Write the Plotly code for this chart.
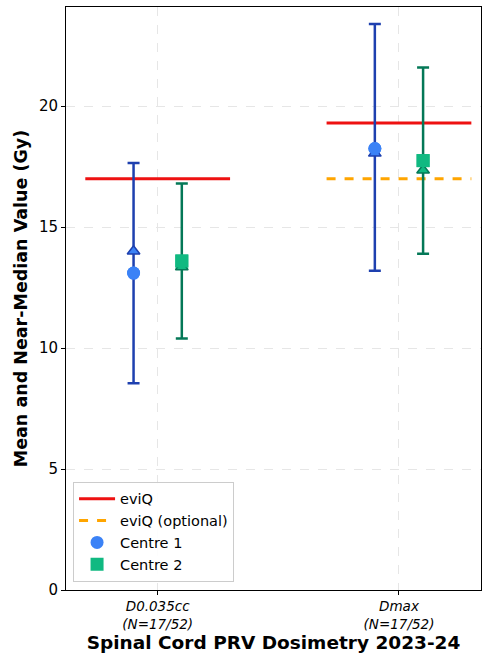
import plotly.graph_objects as go

categories = ["D0.035cc", "Dmax"]
n_labels = ["(N=17/52)", "(N=17/52)"]
eviq = [17.0, 19.3]
eviq_optional = [None, 17.0]

c1_mean = [13.1, 18.25]
c1_median = [14.0, 18.05]
c1_upper = [17.65, 23.4]
c1_lower = [8.55, 13.2]

c2_mean = [13.6, 17.75]
c2_median = [13.35, 17.35]
c2_upper = [16.8, 21.6]
c2_lower = [10.4, 13.9]

xpos = list(range(len(categories)))
off = 0.1
half = 0.3

fig = go.Figure()

for i, v in enumerate(eviq):
    fig.add_trace(go.Scatter(x=[xpos[i] - half, xpos[i] + half], y=[v, v], mode="lines",
                             line=dict(color="#ee1111", width=3), name="eviQ",
                             showlegend=(i == 0), legendgroup="eviq", hoverinfo="skip"))
first = True
for i, v in enumerate(eviq_optional):
    if v is None:
        continue
    fig.add_trace(go.Scatter(x=[xpos[i] - half, xpos[i] + half], y=[v, v], mode="lines",
                             line=dict(color="#ffa500", width=3, dash="dash"), name="eviQ (optional)",
                             showlegend=first, legendgroup="opt", hoverinfo="skip"))
    first = False

def add_centre(mean, med, up, lo, xs, mcol, ecol, sym, name):
    fig.add_trace(go.Scatter(
        x=xs, y=mean, mode="markers", name=name,
        marker=dict(color=mcol, size=13, symbol=sym, line=dict(width=0)),
        error_y=dict(type="data", symmetric=False,
                     array=[u - m for u, m in zip(up, mean)],
                     arrayminus=[m - l for m, l in zip(mean, lo)],
                     color=ecol, thickness=2.5, width=6)))
    fig.add_trace(go.Scatter(
        x=xs, y=med, mode="markers", showlegend=False,
        marker=dict(color=mcol, size=11, symbol="triangle-up", line=dict(color=ecol, width=1.5))))
    fig.add_trace(go.Scatter(
        x=xs, y=mean, mode="markers", showlegend=False,
        marker=dict(color=mcol, size=13, symbol=sym, line=dict(width=0))))

add_centre(c1_mean, c1_median, c1_upper, c1_lower, [x - off for x in xpos],
           "#3b82f6", "#1e40af", "circle", "Centre 1")
add_centre(c2_mean, c2_median, c2_upper, c2_lower, [x + off for x in xpos],
           "#10b981", "#047857", "square", "Centre 2")

fig.update_layout(
    width=482, height=655,
    margin=dict(l=66, r=1, t=7, b=65),
    paper_bgcolor="white", plot_bgcolor="white",
    font=dict(family="DejaVu Sans", color="black", size=13),
    legend=dict(x=0.017, y=0.014, xanchor="left", yanchor="bottom",
                bgcolor="rgba(255,255,255,0.9)", bordercolor="#cccccc", borderwidth=1,
                font=dict(size=14.5), itemwidth=36, tracegroupgap=0),
    showlegend=True,
)
fig.update_xaxes(
    range=[-0.38, 1.34], tickmode="array", tickvals=xpos,
    ticktext=[f"<i>{c}<br>{n}</i>" for c, n in zip(categories, n_labels)],
    tickfont=dict(size=13.5), ticks="outside", ticklen=4, tickcolor="black",
    showgrid=True, gridcolor="#e6e6e6", griddash="dash", gridwidth=1,
    showline=True, linecolor="black", linewidth=1, mirror=True, zeroline=False,
    automargin=False,
    title=dict(text="<b>Spinal Cord PRV Dosimetry 2023-24</b>", font=dict(size=18.5), standoff=0),
)
fig.update_yaxes(
    range=[0, 24.1], tickvals=[0, 5, 10, 15, 20],
    tickfont=dict(size=15), ticks="outside", ticklen=4, tickcolor="black",
    showgrid=True, gridcolor="#e6e6e6", griddash="dash", gridwidth=1,
    showline=True, linecolor="black", linewidth=1, mirror=True, zeroline=False,
    automargin=False,
    title=dict(text="<b>Mean and Near-Median Value (Gy)</b>", font=dict(size=17.5), standoff=6),
)

fig.write_html("out.html", config={"displayModeBar": False},
               post_script="document.body.style.margin='0';document.body.style.overflow='hidden';")
